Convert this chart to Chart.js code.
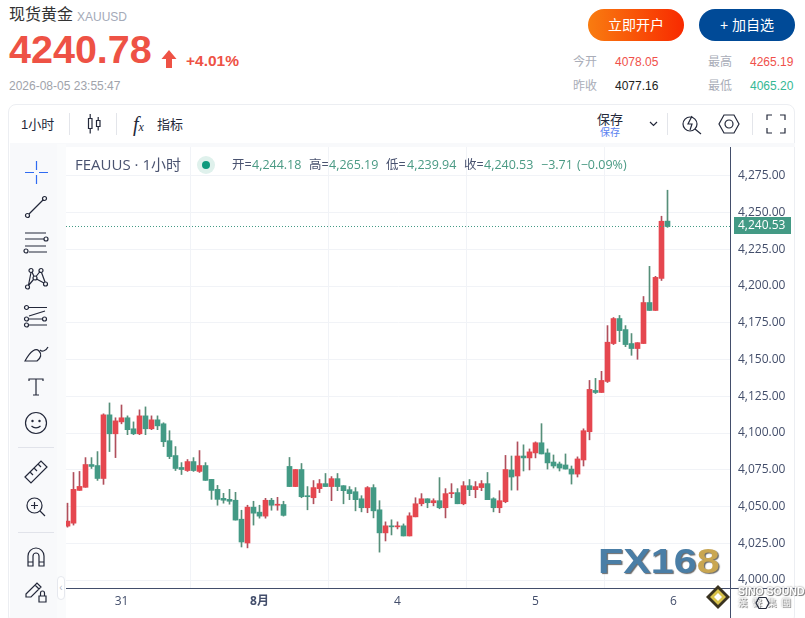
<!DOCTYPE html>
<html lang="zh">
<head>
<meta charset="UTF-8">
<title>现货黄金 XAUUSD</title>
<script src="https://cdn.jsdelivr.net/npm/chart.js"></script>
<style>
    html, body { margin: 0; padding: 0; background: #fff; }
    body {
        width: 805px; height: 618px; position: relative; overflow: hidden;
        font-family: "Liberation Sans", "Noto Sans CJK SC", sans-serif;
    }
    .abs { position: absolute; white-space: nowrap; line-height: 1; }
    .btn { top: 9px; width: 96px; height: 32px; border-radius: 16px; color: #fff; font-size: 14px; line-height: 32px; text-align: center; }
    .stat-k { color: #a9adb8; font-size: 12px; }
    .stat-v { font-size: 12px; }
    #panel { left: 8px; top: 104px; width: 787px; height: 520px; border: 1px solid #eceef2; border-radius: 8px; box-sizing: border-box; }
    #sidebar { left: 10px; top: 144px; width: 47px; height: 474px; background: #f8f9fb; }
    #gap { left: 57px; top: 144px; width: 9px; height: 474px; background: #fafbfc; }
    #collapse { left: 57px; top: 576px; width: 8px; height: 24px; background: #fff; border: 1px solid #e6e8ee; border-radius: 4px; box-sizing: border-box; color: #b6bac6; font-size: 10px; line-height: 22px; text-align: center; }
    #topstrip { left: 10px; top: 143px; width: 785px; height: 4px; background: #f8f9fb; }
    #wrap { position: absolute; left: 66px; top: 147px; width: 730px; height: 471px; }
    #legend { left: 75px; top: 157px; color: #4a5370; font-size: 15px; font-family: "Open Sans", "Noto Sans CJK SC", sans-serif; }
    .lg { top: 159px; font-size: 12.5px; font-family: "Open Sans", "Noto Sans CJK SC", sans-serif; }
    .lk { color: #4a5370; }
    .lv { color: #4a9a84; }
    svg.abs { overflow: visible; }
    svg.ico { fill: none; stroke: #23283a; stroke-width: 1.2; }
    #fx { left: 598px; top: 543px; font-size: 35px; font-weight: bold; color: #4a7ea6; letter-spacing: 0; transform-origin: left top; transform: scaleX(1.18); text-shadow: 1px 1px 1px #6a6a6a; }
    #fx b { color: #c9a651; }
    #sino1 { left: 738px; top: 586px; font-size: 10.5px; font-weight: bold; color: #fff; text-shadow: 1px 1px 0 #888, 0 0 2px #666; }
    #sino2 { left: 738px; top: 598px; font-size: 9.5px; color: #fff; letter-spacing: 5px; text-shadow: 1px 1px 0 #888, 0 0 2px #666; }
</style>
</head>
<body>
    <div class="abs" style="left:9px;top:7px;font-size:16px;color:#333;">现货黄金</div>
    <div class="abs" style="left:77px;top:11px;font-size:12px;color:#a4aab8;">XAUUSD</div>
    <div class="abs" style="left:9px;top:30px;font-size:39.5px;font-weight:bold;color:#ee5245;">4240.78</div>
    <svg class="abs" style="left:161px;top:50px;" width="16" height="18"><path d="M8 0 L15.5 9 H11 V18 H5 V9 H0.5 Z" fill="#ee5245"/></svg>
    <div class="abs" style="left:186px;top:53px;font-size:15.5px;font-weight:bold;color:#ee5245;">+4.01%</div>
    <div class="abs" style="left:9px;top:80px;font-size:12px;color:#a0a3ab;">2026-08-05 23:55:47</div>

    <div class="abs btn" style="left:588px;background:linear-gradient(90deg,#f97c10,#f82a00);">立即开户</div>
    <div class="abs btn" style="left:699px;background:#004a97;">+ 加自选</div>

    <div class="abs stat-k" style="left:573px;top:56px;">今开</div>
    <div class="abs stat-v" style="left:615px;top:56px;color:#f0504a;">4078.05</div>
    <div class="abs stat-k" style="left:708px;top:56px;">最高</div>
    <div class="abs stat-v" style="left:750px;top:56px;color:#f0504a;">4265.19</div>
    <div class="abs stat-k" style="left:573px;top:80px;">昨收</div>
    <div class="abs stat-v" style="left:615px;top:80px;color:#222;">4077.16</div>
    <div class="abs stat-k" style="left:708px;top:80px;">最低</div>
    <div class="abs stat-v" style="left:750px;top:80px;color:#35b894;">4065.20</div>

    <div class="abs" id="panel"></div>
    <div class="abs" id="topstrip"></div>
    <div class="abs" id="sidebar"></div>
    <div class="abs" id="gap"></div>

    <!-- top toolbar -->
    <div class="abs" style="left:21px;top:118px;font-size:13px;color:#23283a;">1小时</div>
    <div class="abs" style="left:69px;top:113px;width:1px;height:22px;background:#e3e5ea;"></div>
    <svg class="abs ico" style="left:86px;top:114px;" width="16" height="20"><path d="M2.5 4.5h3.5v10h-3.5zM4.2 0v4.5M4.2 14.5v5M10.5 6.5h3.5v6h-3.5zM12.2 3v3.5M12.2 12.5v4"/></svg>
    <div class="abs" style="left:116px;top:113px;width:1px;height:22px;background:#e3e5ea;"></div>
    <div class="abs" style="left:133px;top:114px;font-size:20px;font-style:italic;color:#23283a;font-family:'Liberation Serif',serif;">f<span style="font-size:12px;">x</span></div>
    <div class="abs" style="left:157px;top:118px;font-size:13px;color:#23283a;">指标</div>
    <div class="abs" style="left:597px;top:113px;font-size:13px;color:#23283a;">保存</div>
    <div class="abs" style="left:600px;top:128px;font-size:10px;color:#5b82f0;">保存</div>
    <svg class="abs ico" style="left:649px;top:121px;" width="9" height="6"><path d="M1 1l3.5 3.5L8 1"/></svg>
    <div class="abs" style="left:667px;top:113px;width:1px;height:22px;background:#e3e5ea;"></div>
    <svg class="abs ico" style="left:682px;top:113px;" width="20" height="22"><circle cx="8" cy="11" r="7"/><path d="M13 16l6 5M10 3l-4 8h4l-2 6" /></svg>
    <svg class="abs ico" style="left:718px;top:114px;" width="22" height="20"><path d="M6 1h10l5 9-5 9H6L1 10z"/><circle cx="11" cy="10" r="4"/></svg>
    <div class="abs" style="left:752px;top:113px;width:1px;height:22px;background:#e3e5ea;"></div>
    <svg class="abs ico" style="left:767px;top:115px;" width="18" height="18"><path d="M0 5V0h5M13 0h5v5M18 13v5h-5M5 18H0v-5"/></svg>

    <!-- drawing tools -->
    <svg class="abs" style="left:25px;top:161px;" width="23" height="23" fill="none" stroke="#2f6bf2" stroke-width="1.2"><path d="M0 11.5h9M14 11.5h9M11.5 0v9M11.5 14v9"/></svg>
    <svg class="abs ico" style="left:25px;top:196px;" width="22" height="22"><circle cx="2.5" cy="19.5" r="2"/><circle cx="19.5" cy="2.5" r="2"/><path d="M4 18L18 4"/></svg>
    <svg class="abs ico" style="left:24px;top:232px;" width="24" height="22"><path d="M1 1h21M1 7h19M1 14h21M5 20h18"/><circle cx="22" cy="7" r="2"/><circle cx="2" cy="19" r="2"/></svg>
    <svg class="abs ico" style="left:25px;top:268px;" width="23" height="22"><circle cx="2.5" cy="19" r="2"/><circle cx="6" cy="2.5" r="2"/><circle cx="10" cy="10" r="2"/><circle cx="16" cy="2.5" r="2"/><circle cx="20.5" cy="16" r="2"/><path d="M3.5 17L6 4.5 M7 4l2 4.5M3.5 17.5L8.5 11.5M11.5 11l7.5 4M11 8.5l4-5M16.5 4.5L20 14"/></svg>
    <svg class="abs ico" style="left:24px;top:305px;" width="24" height="22"><circle cx="2.5" cy="2.5" r="2"/><circle cx="2.5" cy="14" r="2"/><circle cx="2.5" cy="20" r="2"/><circle cx="20.5" cy="14" r="2"/><path d="M5 2.5h18M5 14h14M5 20h18M5 11l16-5" /></svg>
    <svg class="abs ico" style="left:24px;top:341px;" width="26" height="21"><path d="M1 20h12c4-3 5-7 2-10s-8-1-14 10zM16 9c2 2 6 1 8-3"/></svg>
    <svg class="abs ico" style="left:28px;top:378px;" width="16" height="18"><path d="M1 3V1h14v2M8 1v16M5 17h6"/></svg>
    <svg class="abs ico" style="left:25px;top:412px;" width="22" height="22"><circle cx="11" cy="11" r="10.5"/><circle cx="7.5" cy="9" r="0.6"/><circle cx="14.5" cy="9" r="0.6"/><path d="M6.5 14c2.5 2.5 6.5 2.5 9 0"/></svg>
    <div class="abs" style="left:18px;top:447px;width:36px;height:1px;background:#e1e3ea;"></div>
    <svg class="abs ico" style="left:24px;top:460px;" width="24" height="24"><path d="M1 17L17 1l6 6L7 23zM6 12l3 3M10 8l3 3M14 4l3 3"/></svg>
    <svg class="abs ico" style="left:26px;top:497px;" width="20" height="20"><circle cx="8.5" cy="8.5" r="7.5"/><path d="M14 14l5 5M5 8.5h7M8.5 5v7"/></svg>
    <div class="abs" style="left:18px;top:532px;width:36px;height:1px;background:#e1e3ea;"></div>
    <svg class="abs ico" style="left:27px;top:547px;" width="18" height="20"><path d="M1 19V9a8 8 0 0 1 16 0v10h-5V9a3 3 0 0 0-6 0v10zM1 15h5M12 15h5"/></svg>
    <svg class="abs ico" style="left:25px;top:582px;" width="22" height="21"><path d="M1 12L12 1l4 4L6 15H1zM10 3l4 4M14 14h7v6h-7zM15.5 14v-3a2 2 0 0 1 4 0v3"/></svg>
    <div class="abs" id="collapse">&lsaquo;</div>

    <!-- chart -->
    <div id="wrap"><canvas id="chart" width="730" height="471"></canvas></div>

    <!-- legend row -->
    <div class="abs" id="legend">FEAUUS · 1小时</div>
    <svg class="abs" style="left:197px;top:156px;" width="18" height="18"><circle cx="9" cy="9" r="9" fill="#dff1ec"/><circle cx="9" cy="9" r="4" fill="#0e9a7d"/></svg>
    <div class="abs lg lk" style="left:232px;">开=</div><div class="abs lg lv" style="left:252px;">4,244.18</div>
    <div class="abs lg lk" style="left:309px;">高=</div><div class="abs lg lv" style="left:329px;">4,265.19</div>
    <div class="abs lg lk" style="left:386px;">低=</div><div class="abs lg lv" style="left:407px;">4,239.94</div>
    <div class="abs lg lk" style="left:464px;">收=</div><div class="abs lg lv" style="left:484px;">4,240.53</div>
    <div class="abs lg lv" style="left:541px;">−3.71</div><div class="abs lg lv" style="left:577px;">(−0.09%)</div>

    <!-- watermarks -->
    <div class="abs" id="fx">FX16<b>8</b></div>
    <svg class="abs" style="left:706px;top:585px;" width="24" height="24"><path d="M12 0L24 12 12 24 0 12z" fill="#3a3320"/><path d="M12 4L20 12 12 20 4 12z" fill="#d8c24a"/><path d="M12 8L16 12 12 16 8 12z" fill="#fff"/></svg>
    <div class="abs" id="sino1">SINO SOUND</div>
    <div class="abs" id="sino2">漢聲集團</div>
    <svg class="abs ico" style="left:756px;top:597px;" width="13" height="12"><path d="M3 0.5h7l3 5.5-3 5.5H3L0 6z"/></svg>

    <script>
        const opens = [
            4036.7, 4038.7, 4061.0, 4063.1, 4078.6, 4077.9, 4069.1, 4112.4, 4099.5, 4107.6,
            4110.4, 4102.9, 4099.5, 4111.7, 4102.9, 4109.0, 4106.3, 4094.8, 4084.7, 4076.6,
            4074.5, 4080.6, 4073.9, 4077.9, 4068.5, 4061.7, 4055.6, 4054.9, 4054.3, 4041.4,
            4025.2, 4049.6, 4046.2, 4043.5, 4054.3, 4050.9, 4051.4, 4077.3, 4063.6, 4075.2,
            4057.4, 4056.0, 4062.2, 4065.6, 4063.6, 4069.0, 4064.2, 4061.5, 4060.1, 4055.3,
            4049.2, 4062.9, 4047.8, 4032.1, 4036.9, 4036.2, 4036.9, 4030.0, 4043.0, 4051.9,
            4055.3, 4052.6, 4054.0, 4049.2, 4058.8, 4059.5, 4051.9, 4064.2, 4061.5, 4062.9,
            4065.6, 4055.3, 4049.2, 4053.3, 4074.9, 4070.8, 4084.4, 4083.1, 4086.5, 4093.4,
            4086.5, 4080.3, 4079.0, 4078.3, 4075.5, 4072.1, 4081.7, 4100.9, 4129.0, 4127.6,
            4135.1, 4160.9, 4177.9, 4170.4, 4160.9, 4157.5, 4160.9, 4188.8, 4183.4, 4205.2, 4244.18
        ];
        const closes = [
            4040.1, 4061.7, 4063.7, 4078.6, 4077.3, 4069.1, 4112.4, 4099.5, 4108.3, 4110.4,
            4102.3, 4099.5, 4111.7, 4102.9, 4109.0, 4104.9, 4094.1, 4084.0, 4075.9, 4075.2,
            4080.6, 4074.5, 4077.9, 4067.8, 4061.0, 4054.9, 4054.3, 4053.6, 4040.8, 4025.9,
            4049.6, 4045.5, 4043.5, 4054.3, 4050.9, 4051.6, 4044.0, 4063.6, 4075.2, 4056.7,
            4056.7, 4062.9, 4065.6, 4063.6, 4069.0, 4063.6, 4060.8, 4058.8, 4054.7, 4049.2,
            4062.9, 4047.1, 4032.1, 4036.9, 4036.2, 4036.9, 4030.0, 4043.7, 4051.9, 4055.3,
            4052.6, 4054.0, 4049.2, 4058.8, 4059.5, 4051.9, 4064.2, 4061.5, 4063.6, 4065.6,
            4054.7, 4049.2, 4054.0, 4075.2, 4070.1, 4084.4, 4083.1, 4087.2, 4093.4, 4085.8,
            4079.7, 4077.6, 4076.2, 4075.5, 4072.1, 4082.4, 4101.6, 4129.7, 4127.6, 4135.8,
            4161.8, 4177.9, 4169.7, 4160.2, 4157.5, 4161.5, 4188.8, 4183.4, 4205.9, 4244.1, 4240.53
        ];
        const highs = [
            4052.3, 4073.2, 4073.9, 4083.3, 4083.3, 4087.4, 4113.1, 4120.5, 4110.4, 4119.1,
            4111.7, 4107.6, 4115.8, 4117.8, 4111.7, 4111.7, 4107.0, 4101.6, 4090.8, 4079.9,
            4082.0, 4083.3, 4088.1, 4079.9, 4068.5, 4064.4, 4059.0, 4061.7, 4059.7, 4047.5,
            4050.9, 4053.6, 4050.9, 4055.6, 4055.6, 4056.3, 4053.6, 4083.4, 4075.2, 4079.3,
            4063.6, 4067.7, 4068.4, 4072.5, 4070.4, 4072.5, 4064.2, 4063.6, 4062.9, 4057.4,
            4063.6, 4064.9, 4054.0, 4039.6, 4041.0, 4039.6, 4038.2, 4045.8, 4056.0, 4058.8,
            4055.3, 4055.3, 4069.7, 4062.2, 4065.6, 4062.2, 4067.0, 4068.4, 4067.0, 4067.7,
            4073.2, 4056.0, 4060.8, 4084.8, 4084.4, 4094.0, 4092.0, 4089.2, 4094.0, 4106.4,
            4089.2, 4085.1, 4080.3, 4085.8, 4077.6, 4083.8, 4102.9, 4135.8, 4137.2, 4142.0,
            4173.1, 4178.6, 4180.0, 4173.1, 4167.7, 4161.5, 4192.9, 4213.4, 4206.6, 4247.5, 4265.19
        ];
        const lows = [
            4036.0, 4037.4, 4061.0, 4063.1, 4075.9, 4067.8, 4065.1, 4087.4, 4083.3, 4106.3,
            4098.9, 4098.9, 4098.9, 4098.9, 4102.3, 4102.3, 4090.8, 4082.6, 4074.5, 4071.8,
            4073.9, 4073.9, 4073.2, 4067.8, 4054.9, 4050.9, 4052.3, 4051.6, 4040.8, 4022.5,
            4021.9, 4037.4, 4042.1, 4042.1, 4047.5, 4047.5, 4043.5, 4063.6, 4063.6, 4056.0,
            4047.8, 4051.9, 4059.5, 4063.6, 4054.0, 4060.8, 4051.9, 4054.7, 4047.1, 4046.4,
            4045.8, 4042.3, 4019.0, 4026.6, 4030.7, 4034.8, 4030.0, 4030.0, 4043.0, 4050.5,
            4049.2, 4050.5, 4048.5, 4042.3, 4056.0, 4051.9, 4051.2, 4057.4, 4056.0, 4060.8,
            4054.7, 4046.4, 4045.8, 4052.6, 4061.2, 4061.2, 4074.2, 4074.9, 4083.1, 4085.8,
            4075.5, 4076.2, 4074.2, 4075.5, 4065.3, 4070.1, 4077.6, 4095.4, 4126.9, 4127.6,
            4134.4, 4160.2, 4162.2, 4158.8, 4152.9, 4150.2, 4160.9, 4183.4, 4183.4, 4203.8, 4239.94
        ];
        const priceTicks = [4000, 4025, 4050, 4075, 4100, 4125, 4150, 4175, 4200, 4225, 4250, 4275];
        const dayTickIndex = [9, 32, 55, 78, 101];
        const dayTickLabels = ['31', '8月', '4', '5', '6'];
        const lastPrice = 4240.53;

        const UP = '#e5474f', DOWN = '#439a85';
        const UP_WICK = '#b04f5c', DOWN_WICK = '#568f79';
        const AXIS = '#434e6b', GRID = '#f1f3f7';
        const isUp = i => closes[i] >= opens[i];

        const fmt = v => v.toLocaleString('en-US', { minimumFractionDigits: 2, maximumFractionDigits: 2 });
        const axisFont = { family: '"Open Sans", "Noto Sans CJK SC", sans-serif', size: 12 };

        // axis rules that run past the plot, dotted last price line and its tag
        const lastPriceLine = {
            id: 'lastPriceLine',
            afterDraw(chart) {
                const c = chart.ctx, a = chart.chartArea;
                const y = Math.round(chart.scales.y.getPixelForValue(lastPrice));
                c.save();
                c.strokeStyle = AXIS;
                c.lineWidth = 1;
                c.beginPath();
                c.moveTo(a.left, Math.round(a.bottom) + 0.5);
                c.lineTo(chart.width, Math.round(a.bottom) + 0.5);
                c.moveTo(Math.round(a.right) - 0.5, a.top);
                c.lineTo(Math.round(a.right) - 0.5, chart.height);
                c.stroke();
                c.strokeStyle = DOWN;
                c.setLineDash([1, 2]);
                c.beginPath();
                c.moveTo(a.left, y + 0.5);
                c.lineTo(a.right, y + 0.5);
                c.stroke();
                c.setLineDash([]);
                c.fillStyle = DOWN;
                c.fillRect(a.right + 3, y - 9, 57, 17);
                c.fillStyle = '#fff';
                c.font = '12px ' + axisFont.family;
                c.textBaseline = 'middle';
                c.fillText(fmt(lastPrice), a.right + 7, y);
                c.restore();
            }
        };

        new Chart(document.getElementById('chart'), {
            type: 'bar',
            data: {
                datasets: [
                    {
                        label: 'wick',
                        grouped: false,
                        barThickness: 1,
                        data: highs.map((h, i) => ({ x: i, y: [lows[i], h] })),
                        backgroundColor: highs.map((h, i) => isUp(i) ? UP_WICK : DOWN_WICK),
                        order: 2
                    },
                    {
                        label: 'body',
                        grouped: false,
                        barThickness: 5,
                        minBarLength: 1,
                        data: opens.map((o, i) => ({ x: i, y: [o, closes[i]] })),
                        backgroundColor: opens.map((o, i) => isUp(i) ? UP : DOWN),
                        order: 1
                    }
                ]
            },
            options: {
                responsive: false,
                animation: false,
                layout: { padding: 0 },
                plugins: { legend: { display: false }, tooltip: { enabled: false } },
                scales: {
                    x: {
                        type: 'linear',
                        offset: false,
                        min: -0.25,
                        max: 110.5833,
                        afterBuildTicks: s => { s.ticks = dayTickIndex.map(v => ({ value: v })); },
                        afterFit: s => { s.height = 30; s.paddingLeft = 0; s.paddingRight = 0; },
                        grid: { color: GRID, drawTicks: false },
                        border: { display: false },
                        ticks: {
                            autoSkip: false,
                            maxRotation: 0,
                            padding: 6,
                            color: AXIS,
                            font: ctx => ({ ...axisFont, weight: dayTickLabels[ctx.index] === '8月' ? 'bold' : 'normal' }),
                            callback: v => dayTickLabels[dayTickIndex.indexOf(v)]
                        }
                    },
                    y: {
                        position: 'right',
                        min: 3994.6,
                        max: 4294.6,
                        afterBuildTicks: s => { s.ticks = priceTicks.map(v => ({ value: v })); },
                        afterFit: s => { s.width = 65; s.paddingTop = 0; s.paddingBottom = 0; },
                        grid: { color: GRID, drawTicks: false },
                        border: { display: false },
                        ticks: {
                            padding: 7,
                            color: AXIS,
                            font: axisFont,
                            callback: v => fmt(v)
                        }
                    }
                }
            },
            plugins: [lastPriceLine]
        });
    </script>
</body>
</html>
